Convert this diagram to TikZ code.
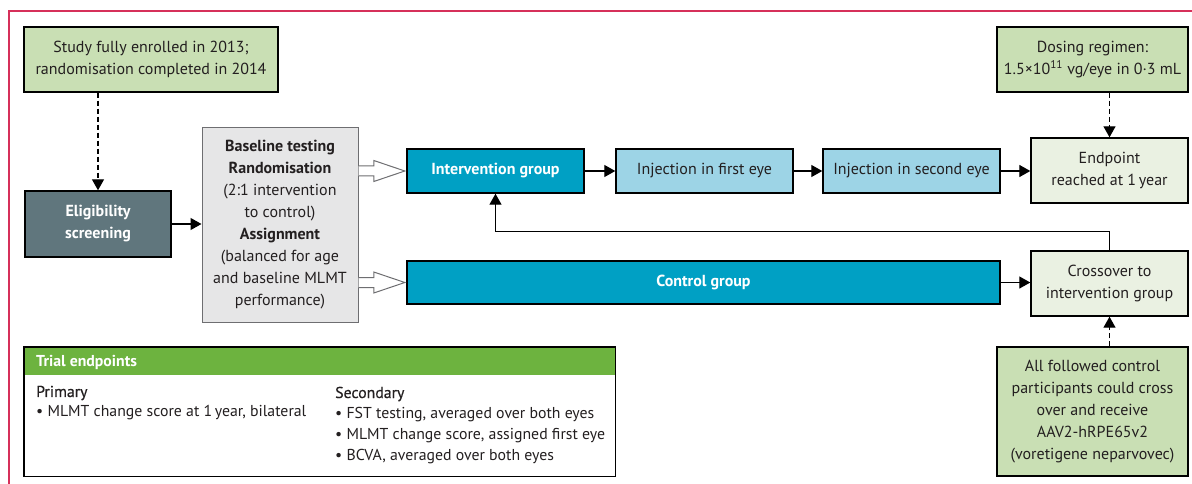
\documentclass[tikz,border=0pt]{standalone}
\usepackage{fontspec}
\setmainfont{PT Sans}
\newfontfamily\medfont[FakeBold=0.5]{PT Sans}
\usetikzlibrary{arrows.meta,calc}
\definecolor{txt}{RGB}{35,31,32}
\definecolor{gbox}{RGB}{201,223,180}
\definecolor{lgbox}{RGB}{234,241,226}
\definecolor{teal}{RGB}{0,160,196}
\definecolor{lblue}{RGB}{157,212,230}
\definecolor{greyfill}{RGB}{230,230,231}
\definecolor{greyline}{RGB}{110,110,113}
\definecolor{slate}{RGB}{96,118,125}
\definecolor{headgreen}{RGB}{109,179,63}
\definecolor{pinkc}{RGB}{214,48,90}
\tikzset{
  box/.style={draw=black, line width=1.4pt, inner sep=0pt, align=center, text=txt},
  greenbox/.style={box, fill=gbox},
  lgreenbox/.style={box, fill=lgbox},
  tealbox/.style={box, fill=teal, text=white, font=\fontsize{16}{22}\selectfont\bfseries},
  bluebox/.style={box, fill=lblue},
  slatebox/.style={box, fill=slate, text=white, font=\fontsize{16}{22}\selectfont\bfseries},
  greybox/.style={draw=greyline, line width=1pt, fill=greyfill, inner sep=0pt, align=center, text=txt},
  arr/.style={line width=1.3pt, -{Triangle[length=11pt,width=12pt]}},
  dasharr/.style={arr, dash pattern=on 5pt off 3pt},
  hollow/.style={draw=greyline, line width=1pt, fill=white, line join=miter},
  lbl/.style={anchor=west, inner sep=0pt, text=txt, font=\fontsize{15.8}{19}\selectfont}
}
\newcommand\hollowarr[2]{%
  \draw[hollow] ($(#1)+(0,-5)$) -- ($(#2)+(-31,-5)$) -- ($(#2)+(-31,-10.5)$) -- (#2)
    -- ($(#2)+(-31,10.5)$) -- ($(#2)+(-31,5)$) -- ($(#1)+(0,5)$);}
\begin{document}
\begin{tikzpicture}[x=1pt,y=-1pt,font=\fontsize{16}{22}\selectfont]
\useasboundingbox (0,0) rectangle (1192,484);
% frame
\draw[pinkc, line width=1.2pt] (9,484) -- (9,11) -- (1192,11);
% nodes
\node[greenbox, minimum width=254pt, minimum height=65pt] (enrol) at (151,59.5)
  {Study fully enrolled in 2013;\\randomisation completed in 2014};
\node[greenbox, minimum width=191pt, minimum height=65pt] (dosing) at (1092.5,59.5)
  {Dosing regimen:\\1.5×10\textsuperscript{11} vg/eye in 0·3 mL};
\node[slatebox, minimum width=146pt, minimum height=66pt] (elig) at (98,224)
  {Eligibility\\screening};
\node[greybox, minimum width=156pt, minimum height=194pt] (grey) at (280,225)
  {\textbf{Baseline testing}\\\textbf{Randomisation}\\(2:1 intervention\\to control)\\\textbf{Assignment}\\(balanced for age\\and baseline MLMT\\performance)};
\node[tealbox, minimum width=177pt, minimum height=44pt] (interv) at (495.5,171)
  {Intervention group};
\node[bluebox, minimum width=177pt, minimum height=44pt] (inj1) at (704.5,171)
  {Injection in first eye};
\node[bluebox, minimum width=177pt, minimum height=44pt] (inj2) at (911.5,171)
  {Injection in second eye};
\node[lgreenbox, minimum width=157pt, minimum height=65pt] (endpt) at (1109.5,170.5)
  {Endpoint\\reached at 1\,year};
\node[tealbox, minimum width=593pt, minimum height=43pt] (control) at (703.5,282.5)
  {Control group};
\node[lgreenbox, minimum width=157pt, minimum height=65pt] (cross) at (1109.5,283.5)
  {Crossover to\\intervention group};
\node[greenbox, minimum width=191pt, minimum height=129pt] (allf) at (1092.5,411.5)
  {All followed control\\participants could cross\\over and receive\\AAV2-hRPE65v2\\(voretigene neparvovec)};
% trial endpoints panel
\node[fill=white, inner sep=0pt, minimum width=591pt, minimum height=129pt] (trial) at (319.5,411.5) {};
\fill[headgreen] (trial.north west) rectangle ($(trial.north east)+(0,28)$);
\draw[black, line width=1.4pt] (trial.north west) rectangle (trial.south east);
\node[lbl, text=white, font=\fontsize{15.8}{19}\selectfont\bfseries] (thead) at (36,362) {Trial endpoints};
\node[lbl, font=\fontsize{15.8}{19}\selectfont\medfont] (prim) at (36,393) {Primary};
\node[lbl] (p1) at (36,413) {• MLMT change score at 1\,year, bilateral};
\node[lbl, font=\fontsize{15.8}{19}\selectfont\medfont] (sec) at (335,394) {Secondary};
\node[lbl] (s1) at (335,415) {• FST testing, averaged over both eyes};
\node[lbl] (s2) at (335,436) {• MLMT change score, assigned first eye};
\node[lbl] (s3) at (335,457) {• BCVA, averaged over both eyes};
% connectors
\coordinate (enrolfoot) at (elig.north |- enrol.south);
\draw[dasharr] (enrolfoot) -- (elig.north);
\coordinate (dosfoot) at (endpt.north |- dosing.south);
\draw[dasharr] (dosfoot) -- (endpt.north);
\coordinate (allftop) at (cross.south |- allf.north);
\draw[dasharr] (allftop) -- (cross.south);
\draw[arr] (elig.east) -- (elig.east -| grey.west);
\draw[arr] (interv.east) -- (inj1.west);
\draw[arr] (inj1.east) -- (inj2.west);
\draw[arr] (inj2.east) -- (inj2.east -| endpt.west);
\draw[arr] (control.east) -- (control.east -| cross.west);
\draw[arr] (cross.north) -- ++(0,-19) -| (interv.south);
% hollow arrows
\coordinate (h1s) at (grey.east |- interv.west);
\coordinate (h1e) at ($(interv.west)+(-1.5,0)$);
\hollowarr{h1s}{h1e}
\coordinate (h2s) at (grey.east |- control.west);
\coordinate (h2e) at ($(control.west)+(-1.5,0)$);
\hollowarr{h2s}{h2e}
\end{tikzpicture}
\end{document}
